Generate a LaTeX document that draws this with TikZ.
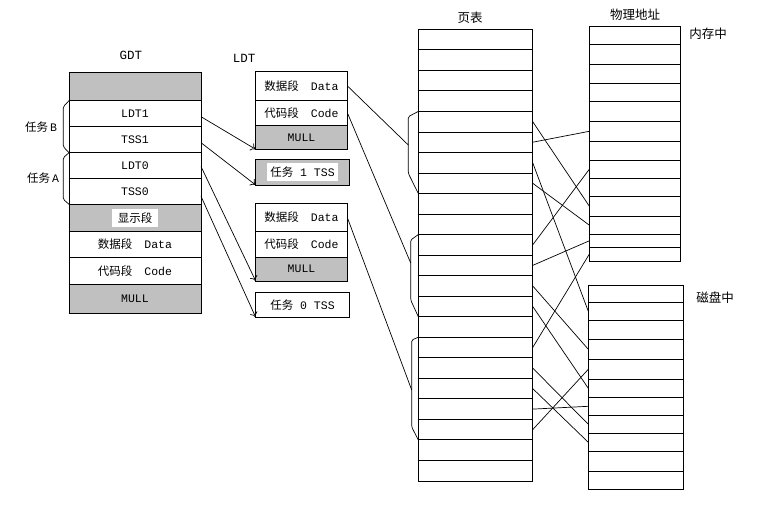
\documentclass[tikz,border=0pt]{standalone}
\usepackage{fontspec}
\setmainfont{Liberation Mono}
\newfontfamily\cjk{Noto Sans CJK SC}
\usepackage{tikz}
\usetikzlibrary{calc}
\usetikzlibrary{arrows.meta}
\usetikzlibrary{positioning}
\definecolor{shade}{RGB}{192,192,192}
\newcommand\cellfont{\fontsize{11.5}{13}\selectfont}
\newcommand\titlefont{\fontsize{12.5}{14}\selectfont}
\newcommand\wgap{\hspace{12pt}}
\tikzset{cell/.style={draw=black,line width=0.9pt,inner sep=0pt,outer sep=0pt,font=\cellfont}}
\tikzset{gcell/.style={cell,fill=shade}}
\tikzset{tag/.style={fill=white,inner xsep=3pt,inner ysep=3.5pt,font=\cellfont}}
\tikzset{title/.style={inner sep=0pt,font=\titlefont}}
\tikzset{link/.style={line width=0.7pt}}
\tikzset{ptr/.style={link,-{To[length=5pt,width=8pt]}}}
\tikzset{brace/.style={line width=0.7pt,rounded corners=1.5pt}}

\begin{document}
\begin{tikzpicture}[x=1pt,y=-1pt]
\useasboundingbox (0,0) rectangle (774,514);

% GDT
\node[title] (gdt) at (131,55) {GDT};
\tikzset{gw/.style={minimum width=132pt}}
\node[gcell,gw,minimum height=28.7pt] (g1) at (135,86.35) {};
\node[cell,gw,minimum height=26pt] (g2) at (135,113.7) {LDT1};
\node[cell,gw,minimum height=26pt] (g3) at (135,139.7) {TSS1};
\node[cell,gw,minimum height=25.6pt] (g4) at (135,165.5) {LDT0};
\node[cell,gw,minimum height=26pt] (g5) at (135,191.3) {TSS0};
\node[gcell,gw,minimum height=27.4pt] (g6) at (135,218) {};
\node[tag,inner xsep=6pt] (g6t) at (g6) {{\cjk 显示段}};
\node[cell,gw,minimum height=25.6pt] (g7) at (135,244.5) {{\cjk 数据段}\wgap Data};
\node[cell,gw,minimum height=27pt] (g8) at (135,270.8) {{\cjk 代码段}\wgap Code};
\node[gcell,gw,minimum height=29pt] (g9) at (135,298.8) {MULL};

% task braces
\draw[brace] (69,100.7) -- (63.3,106.7) -- (63.3,146.7) -- (69,152.7);
\draw[brace] (69,152.7) -- (63.3,157.7) -- (63.3,199.3) -- (69,204.3);
\node[title,font=\cellfont] (taskB) at (41,127.3) {{\cjk 任务}\,B};
\node[title,font=\cellfont] (taskA) at (43,178.3) {{\cjk 任务}\,A};

% LDT
\node[title] (ldt) at (244,58) {LDT};
\tikzset{lw/.style={minimum width=91.6pt}}
\tikzset{tw/.style={minimum width=93.6pt}}
\node[cell,lw,minimum height=28.3pt] (ld1) at (301.5,85.85) {{\cjk 数据段}\wgap Data};
\node[cell,lw,minimum height=25.3pt] (lc1) at (301.5,112.65) {{\cjk 代码段}\wgap Code};
\node[gcell,lw,minimum height=24pt] (lm1) at (301.5,137.3) {MULL};
\node[gcell,tw,minimum height=26pt] (ts1) at (302.5,172) {};
\node[tag] (ts1t) at (ts1) {{\cjk 任务} 1 TSS};
\node[cell,lw,minimum height=28.4pt] (ld2) at (301.5,217.5) {{\cjk 数据段}\wgap Data};
\node[cell,lw,minimum height=25.6pt] (lc2) at (301.5,244.5) {{\cjk 代码段}\wgap Code};
\node[gcell,lw,minimum height=23.7pt] (lm2) at (301.5,269.15) {MULL};
\node[cell,tw,minimum height=25pt] (ts0) at (302.5,304.8) {{\cjk 任务} 0 TSS};

% GDT -> LDT
\draw[ptr] ([yshift=-3pt]g2.east) -- (lm1.south west);
\draw[ptr] ([yshift=-3pt]g3.east) -- (ts1.south west);
\draw[ptr] ([yshift=-1pt]g4.east) -- (lm2.south west);
\draw[ptr] ([yshift=-5pt]g5.east) -- (ts0.south west);

% page table
\node[title] (pt) at (470,17.7) {{\cjk 页表}};
\foreach \i in {1,...,22}
  {
 \node[cell,minimum width=114.4pt,minimum height=20.53pt] (pt\i) at (475.5,{29.3+20.53*(\i-0.5)}) {};
 }

% braces on page table
\draw[brace] (pt5.north west) -- (408.3,116.7) -- (408.3,173.3) -- (pt8.south west);
\draw[brace] (pt11.north west) -- (410.7,240) -- (410.7,300) -- (pt14.south west);
\draw[brace] (pt16.north west) -- (411.7,340) -- (411.7,427) -- (pt20.south west);
\coordinate (b1) at (408.3,145);
\coordinate (b2) at (410.7,263);
\coordinate (b3) at (411.7,390);

\draw[link] (ld1.east) -- (b1);
\draw[link] (lc1.east) -- (b2);
\draw[link] (ld2.east) -- (b3);

% physical memory
\node[title] (phys) at (635,15) {{\cjk 物理地址}};
\node[title] (inmem) at (708,34) {{\cjk 内存中}};
\foreach \t/\b [count=\i] in {26.3/44.3,44.3/64.3,64.3/83.3,83.3/101.3,101.3/121.3,121.3/141.3,141.3/160.3,160.3/178.3,178.3/196.3,196.3/216,216/234.3,234.3/247.3,247.3/261}
  {
 \pgfmathsetmacro{\h}{\b-\t}
 \pgfmathsetmacro{\m}{(\t+\b)/2}
 \node[cell,minimum width=91pt,minimum height=\h pt] (mem\i) at (634.8,\m) {};
 }

% disk
\node[title] (indisk) at (715,297.7) {{\cjk 磁盘中}};
\foreach \t/\b [count=\i] in {285/302.3,302.3/320.3,320.3/339.3,339.3/359.3,359.3/379.3,379.3/397.3,397.3/415.3,415.3/433.3,433.3/451.3,451.3/471.3,471.3/489.3}
  {
 \pgfmathsetmacro{\h}{\b-\t}
 \pgfmathsetmacro{\m}{(\t+\b)/2}
 \node[cell,minimum width=95pt,minimum height=\h pt] (disk\i) at (635.8,\m) {};
 }

% page table -> frames
\foreach \a/\b in {pt5/mem10,pt6/mem6,pt11/mem8,pt7/disk2,pt8/mem11,pt12/mem12,pt16/mem13,pt13/disk4,pt14/disk6,pt17/disk8,pt18/disk9,pt19/disk7,pt20/disk5}
  {
 \draw[link] (\a.east) -- (\b.west);
 }

\end{tikzpicture}
\end{document}
